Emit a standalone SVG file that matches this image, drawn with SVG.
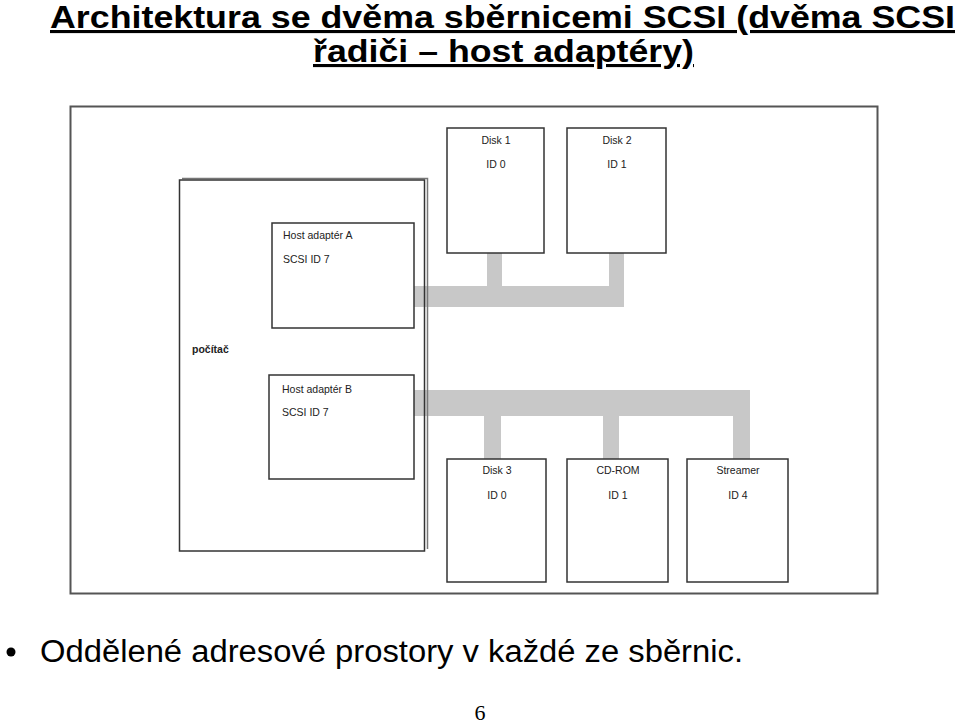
<svg xmlns="http://www.w3.org/2000/svg" width="960" height="724" viewBox="0 0 960 724">
<style>
.box{fill:#fff;stroke:#333;stroke-width:1.5}
.shadow{fill:none;stroke:#777;stroke-width:1.5}
.bus{fill:#c8c8c8}
.lbl{font-family:"Liberation Sans",Arial,sans-serif;font-size:10.5px;fill:#222}
.c{text-anchor:middle}
.title{font-family:"Liberation Sans",Arial,sans-serif;font-size:31px;font-weight:bold;fill:#000;text-decoration:underline}
</style>
<rect width="960" height="724" fill="#fff"/>
<g id="title">
<text class="title" x="50" y="28" textLength="905" lengthAdjust="spacingAndGlyphs">Architektura se dvěma sběrnicemi SCSI (dvěma SCSI</text>
<text class="title" x="313" y="62" textLength="381" lengthAdjust="spacingAndGlyphs">řadiči – host adaptéry)</text>
</g>
<g id="frame"><rect x="70.5" y="106.5" width="807" height="487" fill="none" stroke="#555" stroke-width="2"/></g>
<g id="connectors">
<rect class="bus" x="414" y="286" width="210" height="21"/>
<rect class="bus" x="487" y="253" width="15" height="33"/>
<rect class="bus" x="609" y="253" width="15" height="33"/>
<rect class="bus" x="414" y="390" width="336" height="26"/>
<rect class="bus" x="484" y="416" width="17" height="43"/>
<rect class="bus" x="603" y="416" width="16" height="43"/>
<rect class="bus" x="733" y="416" width="17" height="43"/>
</g>
<g id="pocitac">
<polyline class="shadow" points="182,178.5 427.5,178.5 427.5,549"/>
<rect x="179.5" y="180" width="245" height="371" fill="none" stroke="#333" stroke-width="1.5"/>
<text class="lbl" x="192" y="353" font-weight="bold">počítač</text>
</g>
<g id="hostA">
<rect class="box" x="272" y="223" width="142" height="105"/>
<text class="lbl" x="283" y="239">Host adaptér A</text>
<text class="lbl" x="283" y="263">SCSI ID 7</text>
</g>
<g id="hostB">
<rect class="box" x="269" y="375" width="145" height="104"/>
<text class="lbl" x="282" y="393">Host adaptér B</text>
<text class="lbl" x="282" y="416">SCSI ID 7</text>
</g>
<g id="disk1">
<rect class="box" x="447" y="128" width="97" height="125"/>
<text class="lbl c" x="496" y="144">Disk 1</text>
<text class="lbl c" x="496" y="168">ID 0</text>
</g>
<g id="disk2">
<rect class="box" x="567" y="128" width="99" height="125"/>
<text class="lbl c" x="617" y="144">Disk 2</text>
<text class="lbl c" x="617" y="168">ID 1</text>
</g>
<g id="disk3">
<rect class="box" x="447" y="459" width="99" height="123"/>
<text class="lbl c" x="497" y="474">Disk 3</text>
<text class="lbl c" x="497" y="499">ID 0</text>
</g>
<g id="cdrom">
<rect class="box" x="567" y="459" width="101" height="123"/>
<text class="lbl c" x="618" y="474">CD-ROM</text>
<text class="lbl c" x="618" y="499">ID 1</text>
</g>
<g id="streamer">
<rect class="box" x="687" y="459" width="101" height="123"/>
<text class="lbl c" x="738" y="474">Streamer</text>
<text class="lbl c" x="738" y="499">ID 4</text>
</g>
<g id="bullet">
<circle cx="11" cy="652" r="4.5" fill="#000"/>
<text x="40" y="662" font-family="'Liberation Sans',Arial,sans-serif" font-size="31" fill="#000" textLength="703" lengthAdjust="spacingAndGlyphs">Oddělené adresové prostory v každé ze sběrnic.</text>
</g>
<text x="480" y="720" text-anchor="middle" font-family="'Liberation Serif','Times New Roman',serif" font-size="22" fill="#000">6</text>
</svg>
